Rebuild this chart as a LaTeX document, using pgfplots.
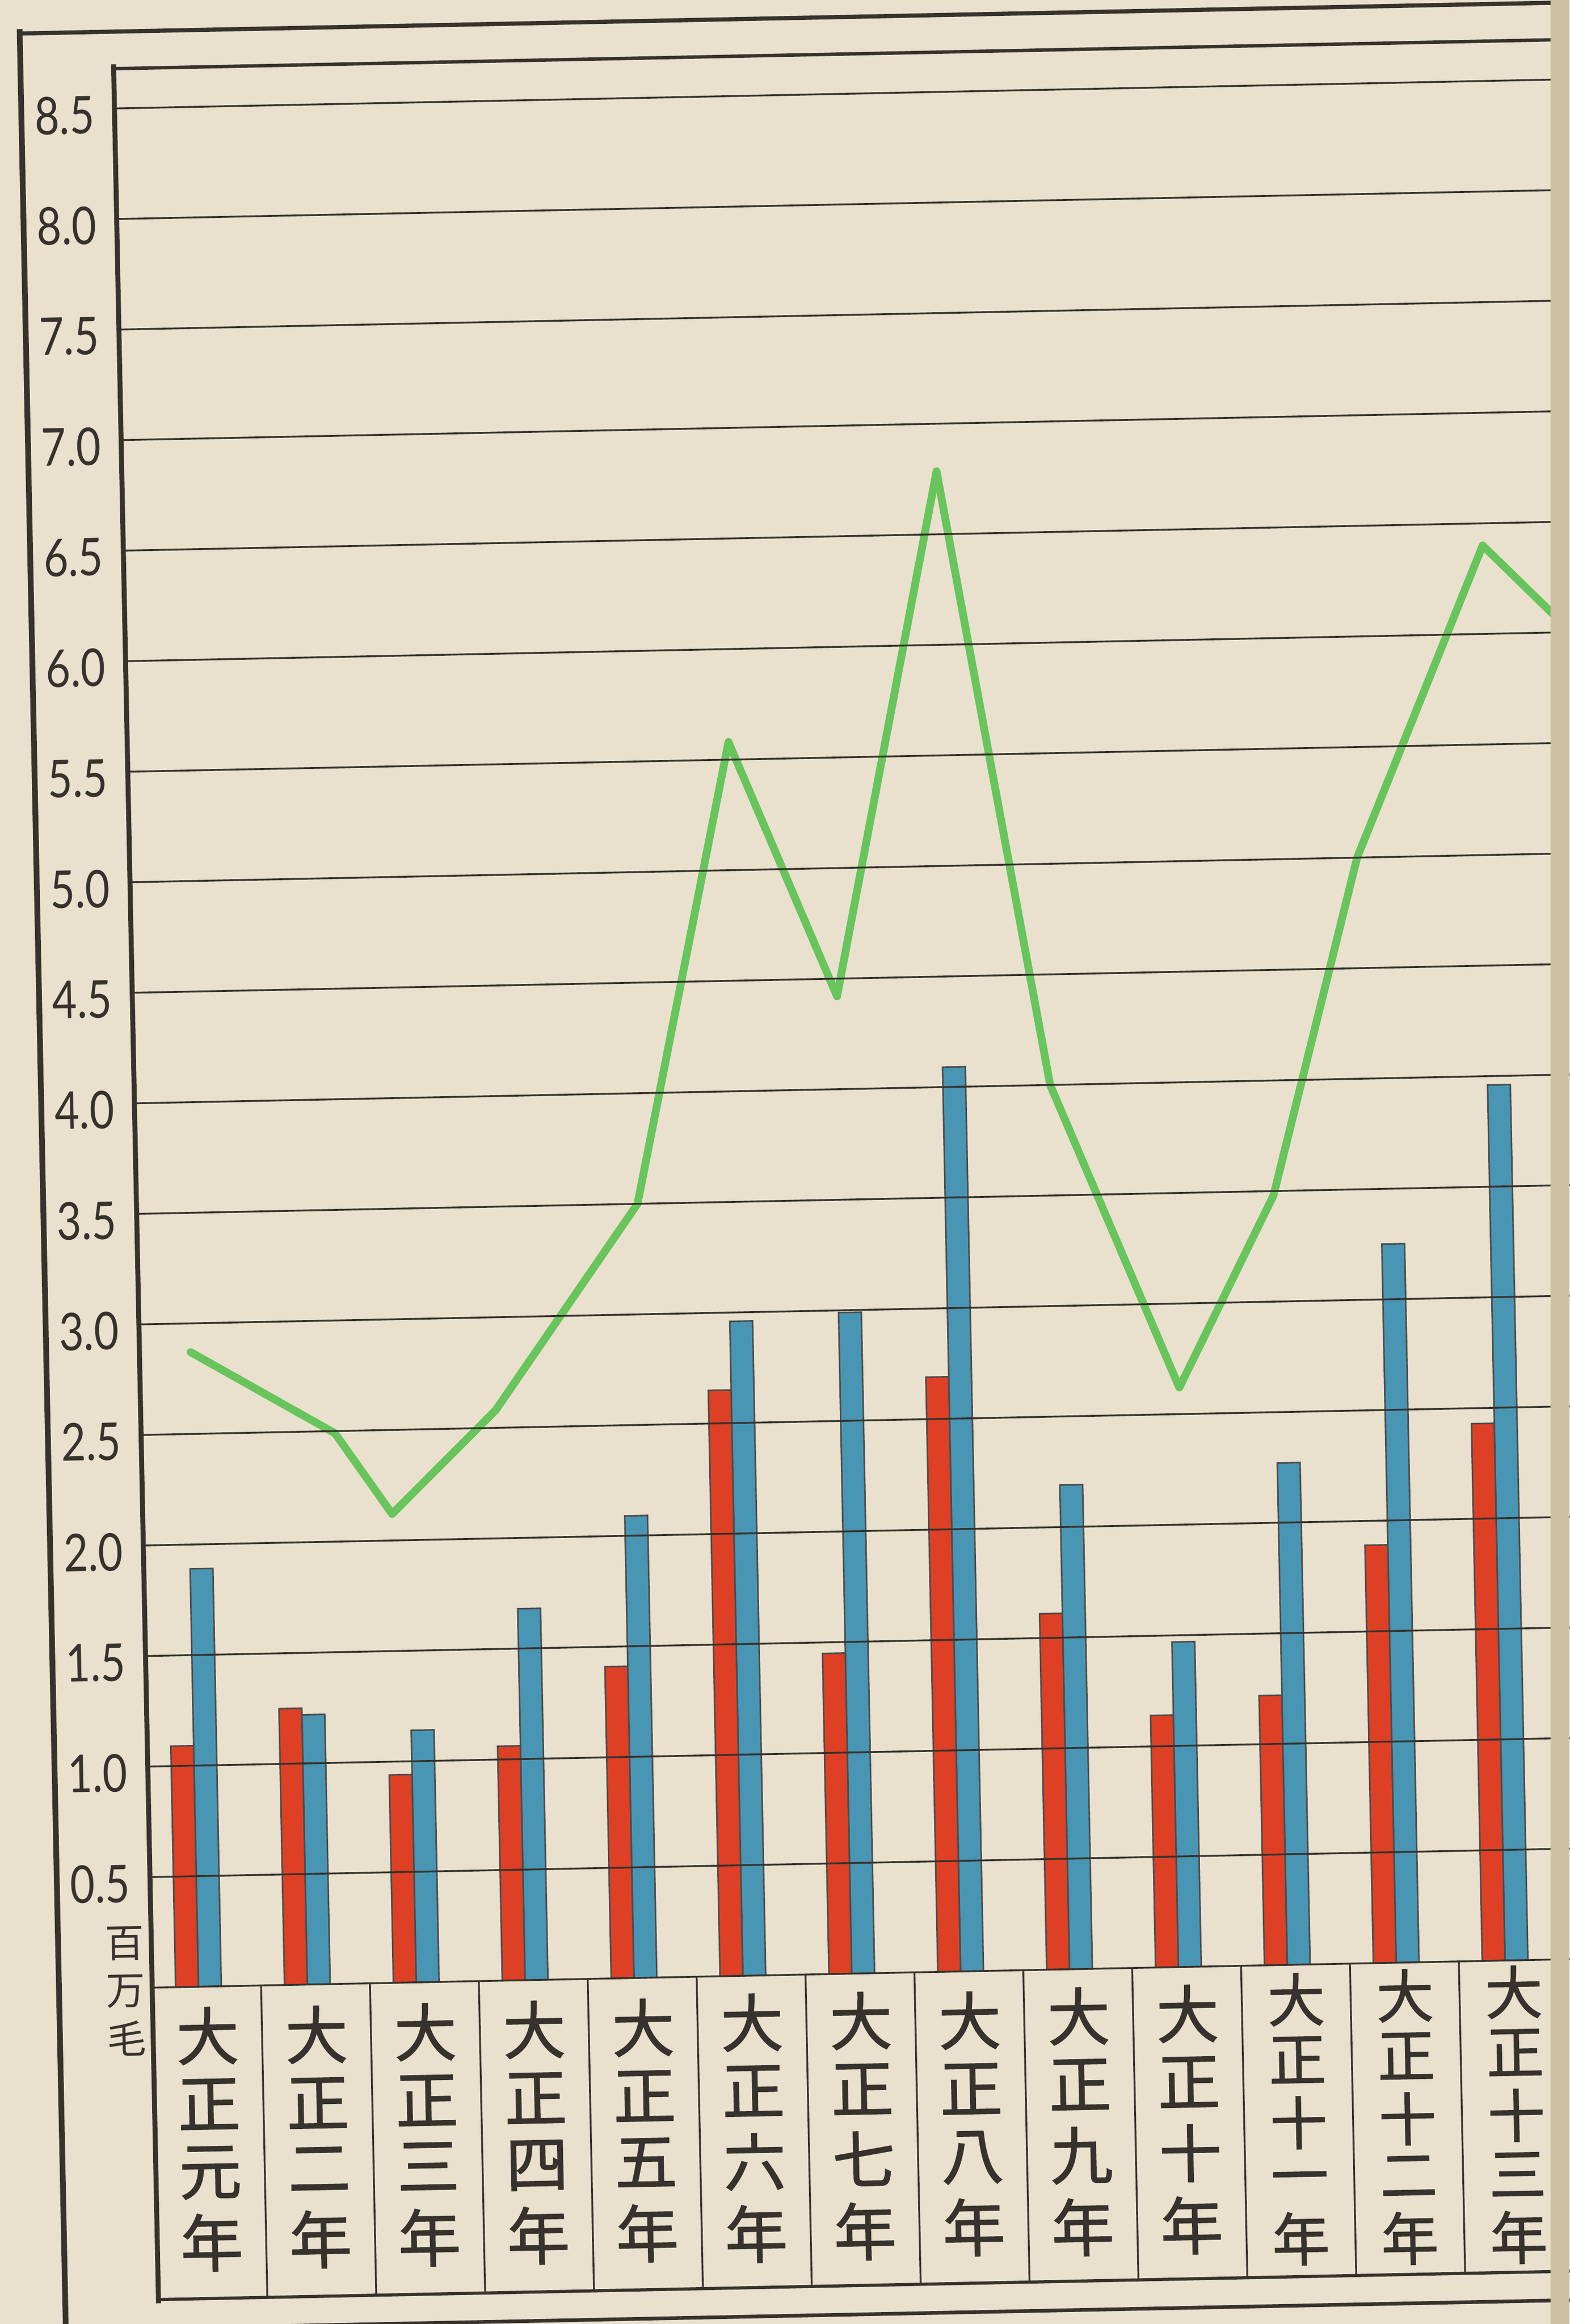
\documentclass[border=0pt]{standalone}
\usepackage{pgfplots}
\pgfplotsset{compat=1.18}
\usepackage{fontspec}
\setmainfont{Lato}
\newfontfamily\tickfont{Lato}[FakeStretch=0.82]
\newfontfamily\cjk{Noto Sans CJK JP}
\newfontfamily\cjklab{Noto Sans CJK JP}[FakeBold=1.5]

\definecolor{paper}{RGB}{233,225,205}
\definecolor{gutter}{RGB}{205,192,160}
\definecolor{ink}{RGB}{55,50,45}
\definecolor{barred}{RGB}{222,64,38}
\definecolor{barblue}{RGB}{72,150,180}
\definecolor{linegreen}{RGB}{104,196,92}

% vertical year labels, one character per row
\newcommand{\fourc}[4]{{\cjklab\fontsize{12pt}{12.5pt}\selectfont
  \begin{tabular}{@{}c@{}}#1\\#2\\#3\\#4\end{tabular}}}
\newcommand{\fivec}[5]{{\cjklab\fontsize{11pt}{10pt}\selectfont
  \begin{tabular}{@{}c@{}}#1\\#2\\#3\\#4\\#5\end{tabular}}}

\begin{document}
\begin{tikzpicture}[x=1mm,y=1mm]
  % paper
  \fill[paper] (0,0) rectangle (105.9,156.8);

  % the printed sheet sits slightly askew on the scan
  \begin{scope}[transform canvas={rotate around={1.15:(55,76.8)}}]
  \begin{axis}[
      at={(9.19mm,23.6mm)}, anchor=south west,
      scale only axis, width=96.99mm, height=129.5mm,
      xmin=-0.5, xmax=12.7, ymin=0, ymax=8.68,
      clip=false, axis on top,
      axis line style={draw=none},
      major tick length=0pt,
      ymajorgrids,
      grid style={draw=ink, line width=0.35pt},
      ytick={0,0.5,1,1.5,2,2.5,3,3.5,4,4.5,5,5.5,6,6.5,7,7.5,8,8.5},
      yticklabels={{},0.5,1.0,1.5,2.0,2.5,3.0,3.5,4.0,4.5,5.0,5.5,6.0,6.5,7.0,7.5,8.0,8.5},
      yticklabel style={font=\tickfont\fontsize{10pt}{10pt}\selectfont,
        text=ink, anchor=east, inner sep=0pt, xshift=-1.3mm, yshift=-0.4mm},
      xtick={0,1,2,3,4,5,6,7,8,9,10,11,12},
      xticklabels={
        \fourc{大}{正}{元}{年},
        \fourc{大}{正}{二}{年},
        \fourc{大}{正}{三}{年},
        \fourc{大}{正}{四}{年},
        \fourc{大}{正}{五}{年},
        \fourc{大}{正}{六}{年},
        \fourc{大}{正}{七}{年},
        \fourc{大}{正}{八}{年},
        \fourc{大}{正}{九}{年},
        \fourc{大}{正}{十}{年},
        \fivec{大}{正}{十}{一}{年},
        \fivec{大}{正}{十}{二}{年},
        \fivec{大}{正}{十}{三}{年}},
      xticklabel style={anchor=center, inner sep=0pt, yshift=-10.8mm, text=ink},
    ]
    % red bars
    \addplot[ybar, bar width=0.209, bar shift=-0.18,
      fill=barred, draw=black!70, line width=0.3pt] coordinates {
      (0,1.09) (1,1.25) (2,0.94) (3,1.06) (4,1.41) (5,2.65) (6,1.45)
      (7,2.69) (8,1.61) (9,1.14) (10,1.22) (11,1.89) (12,2.43)
    };
    % blue bars
    \addplot[ybar, bar width=0.209, bar shift=0.03,
      fill=barblue, draw=black!70, line width=0.3pt] coordinates {
      (0,1.89) (1,1.22) (2,1.14) (3,1.68) (4,2.09) (5,2.96) (6,2.99)
      (7,4.09) (8,2.19) (9,1.47) (10,2.27) (11,3.25) (12,3.96)
    };
    % green line, vertices as drawn
    \addplot[linegreen, line width=1.5pt, line join=round, line cap=round, mark=none]
      coordinates {
      (-0.03,2.87) (1.28,2.49) (1.79,2.12) (2.76,2.58) (4.10,3.50)
      (5.02,5.58) (5.97,4.42) (6.98,6.785) (7.91,4.00) (9.04,2.62)
      (9.94,3.48) (10.77,5.00) (11.98,6.40) (12.70,6.04)
    };
  \end{axis}

  % label boxes under the axis
  \foreach \k in {1,...,12}
    \draw[ink, line width=0.35pt] ({9.19+7.348*\k},23.6) -- ({9.19+7.348*\k},2.55);

  % inner frame
  \draw[ink, line width=0.65pt] (107,153.1) -- (9.19,153.1);
  \draw[ink, line width=0.95pt] (9.19,153.4) -- (9.19,2.3);
  \draw[ink, line width=0.6pt] (9.19,2.55) -- (107,2.55);
  % outer frame
  \draw[ink, line width=0.8pt] (107,155.6) -- (2.9,155.6);
  \draw[ink, line width=1.1pt] (2.9,155.9) -- (2.9,0.3);
  \draw[ink, line width=0.7pt] (2.9,0.6) -- (107,0.6);

  % unit, one character per node
  \node[ink, inner sep=0pt, font=\cjk\fontsize{7.5pt}{7.5pt}\selectfont] at (7.4,26.6) {百};
  \node[ink, inner sep=0pt, font=\cjk\fontsize{7.5pt}{7.5pt}\selectfont] at (7.4,23.4) {万};
  \node[ink, inner sep=0pt, font=\cjk\fontsize{7.5pt}{7.5pt}\selectfont] at (7.4,20.2) {毛};
  \end{scope}

  % book gutter at the right edge of the sheet
  \fill[gutter] (104.6,0) rectangle (105.9,156.8);
\end{tikzpicture}
\end{document}
